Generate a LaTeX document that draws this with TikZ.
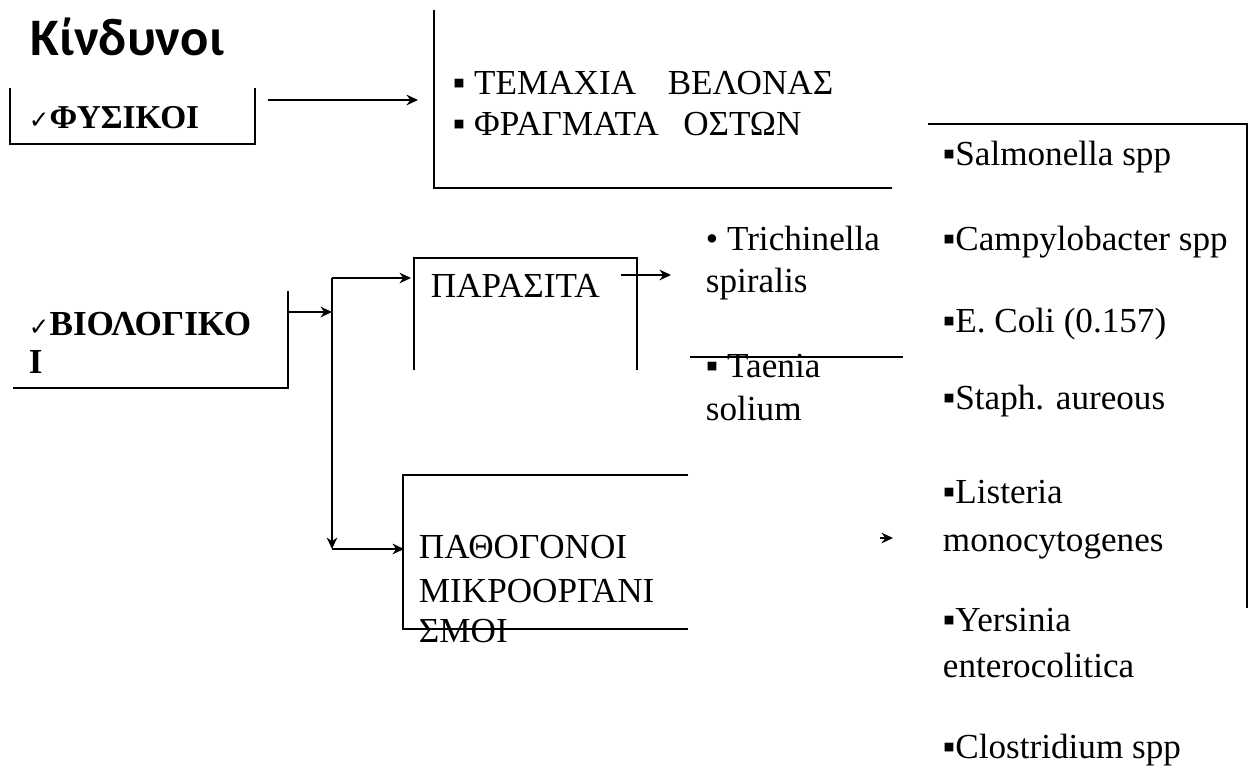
\documentclass[tikz,border=0pt]{standalone}
\usepackage{fontspec}
\setmainfont{Liberation Serif}
\newfontfamily\titlefont{Carlito}
\newfontfamily\checkfont{DejaVu Sans}
\usetikzlibrary{arrows.meta}

\begin{document}
\begin{tikzpicture}[x=0.02cm, y=-0.02cm, line width=1.1pt,
    txt/.style={anchor=base west, inner sep=0pt, font=\fontsize{20}{24}\selectfont},
    boldtxt/.style={txt, font=\fontsize{20}{24}\selectfont\bfseries},
    arr/.style={-{Stealth[length=6.5pt, width=6pt]}}]
    \useasboundingbox (0,0) rectangle (1249,775);

    % Title
    \node[anchor=base west, inner sep=0pt, font=\titlefont\bfseries\fontsize{30}{36}\selectfont] (title) at (30,55) {Κίνδυνοι};

    % Physical hazards
    \node[boldtxt, font=\fontsize{19}{24}\selectfont\bfseries] (fysikoi) at (28,128) {{\checkfont\fontsize{14}{14}\selectfont ✓}ΦΥΣΙΚΟΙ};
    \draw (10,88) |- (255,144) -- (255,88);
    \node[txt] (item1) at (452,94) {▪ ΤΕΜΑΧΙΑ\hspace{0.9em}ΒΕΛΟΝΑΣ};
    \node[txt] (item2) at (452,135) {▪ ΦΡΑΓΜΑΤΑ\hspace{0.7em}ΟΣΤΩΝ};
    \draw (434,10) |- (892,188);

    % Biological hazards
    \node[boldtxt] (bio1) at (28,335) {{\checkfont\fontsize{14}{14}\selectfont ✓}ΒΙΟΛΟΓΙΚΟ};
    \node[boldtxt] (bio2) at (28,373) {Ι};
    \draw (13,388) -| (288,291);

    % Parasites
    \node[txt] (para) at (430,297) {ΠΑΡΑΣΙΤΑ};
    \draw (414,370) |- (637,258) -- (637,370);
    \node[txt] (trich1) at (705,250) {• Trichinella};
    \node[txt] (trich2) at (705,292) {spiralis};
    \node[txt] (taen1) at (705,377) {▪ Taenia};
    \node[txt] (taen2) at (705,420) {solium};
    \draw (690,357) -- (903,357);

    % Pathogenic microorganisms
    \node[txt] (patho1) at (418,558) {ΠΑΘΟΓΟΝΟΙ};
    \node[txt] (patho2) at (418,602) {ΜΙΚΡΟΟΡΓΑΝΙ};
    \node[txt] (patho3) at (418,642) {ΣΜΟΙ};
    \draw (688,475) -| (403,629) -- (688,629);

    % Bacteria list
    \foreach \t/\y [count=\i] in {{▪Salmonella spp}/165, {▪Campylobacter spp}/250,
        {▪E. Coli (0.157)}/332, {▪Staph. aureous}/409, {▪Listeria}/503,
        {monocytogenes}/551, {▪Yersinia}/631, {enterocolitica}/677,
        {▪Clostridium spp}/758} {
      \node[txt] (bact\i) at (942,\y) {\t};
    }
    \draw (928,124) -| (1247,608);

    % Connection points
    \coordinate (fys-out) at (268,100);
    \coordinate (items-in) at (418,100);
    \coordinate (bio-out) at (288,312);
    \coordinate (branch-mid) at (332,312);
    \coordinate (branch-top) at (332,278);
    \coordinate (branch-bot) at (332,549);
    \coordinate (para-in) at (411,278);
    \coordinate (patho-in) at (404,549);
    \coordinate (para-out) at (621,275);
    \coordinate (trich-in) at (671,275);
    \coordinate (patho-tail) at (880,538);
    \coordinate (patho-head) at (893,538);

    % Connections
    \draw[arr] (fys-out) -- (items-in);
    \draw[arr] (bio-out) -- (branch-mid);
    \draw[arr] (branch-top) -- (branch-bot);
    \draw[arr] (branch-top) -- (para-in);
    \draw[arr] (branch-bot) -- (patho-in);
    \draw[arr] (para-out) -- (trich-in);
    \draw[arr] (patho-tail) -- (patho-head);
  \end{tikzpicture}
\end{document}
